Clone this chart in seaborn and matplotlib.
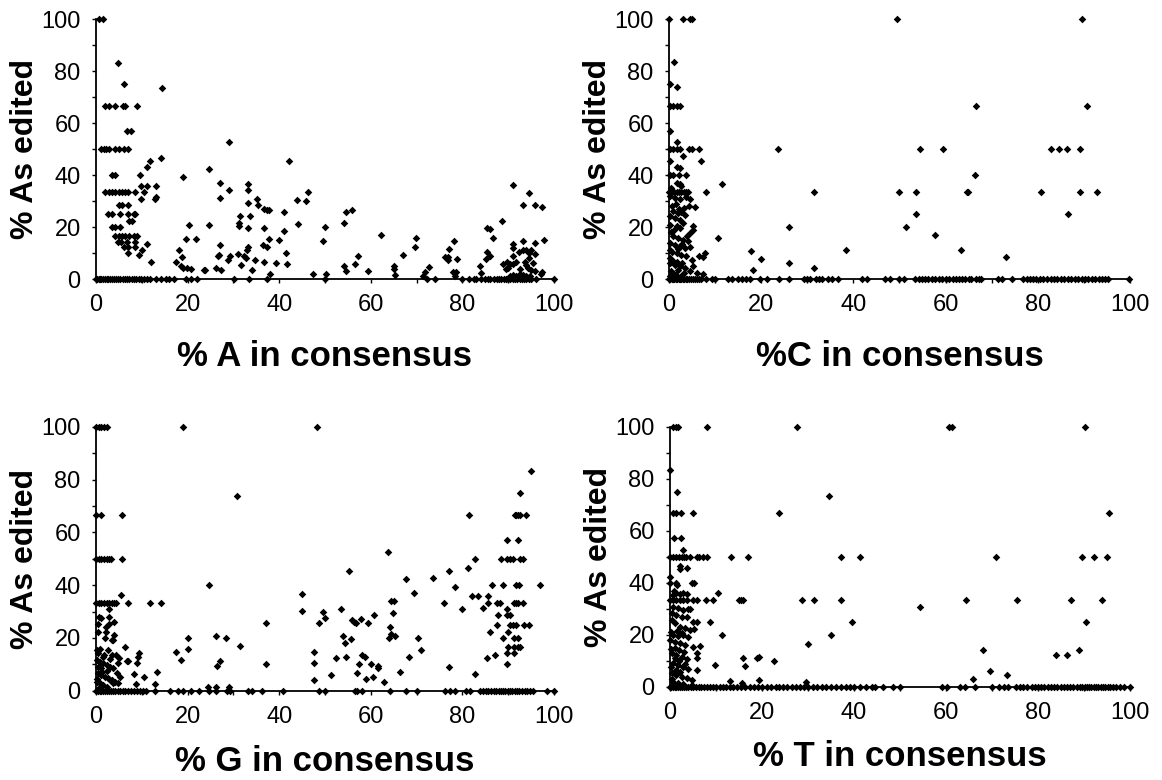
import numpy as np
import pandas as pd
import matplotlib
matplotlib.use("Agg")
import matplotlib.pyplot as plt
import seaborn as sns
from matplotlib.ticker import MultipleLocator

# (% base in consensus, % As edited) for sites with some editing
A_EDITED = [
    (0.7, 100), (1.5, 100), (4.7, 83.2), (6.2, 75),
    (2.0, 66.7), (2.8, 66.7), (4.2, 66.7), (5.8, 66.7), (6.4, 66.7), (9.0, 66.7),
    (6.8, 57.1), (7.7, 57.1),
    (1.2, 50), (1.7, 50), (2.2, 50), (2.8, 50), (4.2, 50), (5.0, 50), (6.2, 50), (7.0, 50),
    (14.4, 73.6), (14.1, 46.7), (11.9, 45.3), (11.2, 42.9),
    (3.5, 40), (4.2, 40), (9.6, 40), (9.9, 35.8), (11.2, 35.8), (13.0, 35.8),
    (2.0, 33.3), (2.8, 33.3), (3.5, 33.3), (4.2, 33.3), (5.0, 33.3), (5.7, 33.3),
    (6.4, 33.3), (7.0, 33.3), (8.5, 33.3), (10.4, 33.3),
    (9.8, 30.9), (12.8, 30.9), (13.0, 31.5), (5.0, 28.6), (5.7, 28.6), (7.0, 28.6),
    (2.6, 25), (3.4, 25), (5.3, 25), (7.0, 25), (8.2, 25), (8.6, 25),
    (7.2, 22.2), (7.9, 22.2), (3.5, 20), (4.2, 20), (5.3, 20),
    (4.2, 16.7), (5.0, 16.7), (5.7, 16.7), (6.4, 16.7), (7.2, 16.7), (8.2, 16.7), (9.0, 16.7),
    (4.7, 14.3), (5.5, 14.3), (6.8, 14.3), (8.6, 14.3), (6.2, 12.5), (7.0, 12.5), (8.5, 12.5),
    (10.1, 11.1), (7.0, 10), (9.3, 9.1), (11.2, 13.3), (12.0, 6.4),
    (19.0, 39.3), (18.1, 11.3), (17.4, 6.4), (18.8, 8.5), (18.5, 4.9), (19.0, 4.2),
    (19.9, 4.2), (20.7, 3.8), (19.6, 15.5), (20.4, 20.9), (21.8, 15.5), (23.6, 3.3),
    (23.9, 3.3), (24.7, 42.3), (24.7, 20.9), (26.1, 4.1),
    (27.0, 37.0), (27.0, 31.1), (27.0, 13.2), (26.9, 9.3), (26.6, 8.9), (27.4, 3.3),
    (29.1, 52.6), (29.1, 34.3), (29.3, 9.0), (28.8, 7.2),
    (31.0, 9.7), (31.2, 21.5), (31.2, 20.2), (31.4, 24.1), (31.7, 5.2), (32.3, 9.0), (32.7, 8.1),
    (33.2, 36.6), (33.1, 34.1), (33.2, 29.2), (33.2, 19.6), (33.1, 12.3), (33.0, 11.0),
    (33.7, 24.1), (34.0, 3.6), (34.7, 7.2),
    (35.1, 30.9), (35.4, 28.6), (36.7, 26.9), (37.4, 26.4), (36.7, 19.7), (36.4, 13.2),
    (36.6, 6.4), (37.4, 12.5), (37.8, 15.4), (37.8, 26.4), (38.0, 2.0),
    (39.3, 6.1), (40.0, 14.9), (41.0, 18.4), (41.0, 25.8), (41.5, 10.0), (41.7, 5.9),
    (42.2, 45.2), (43.9, 30.2), (44.2, 21.0),
    (45.9, 30.1), (46.4, 33.4), (47.4, 1.9), (49.6, 14.6), (50.0, 20.0), (50.2, 2.0),
    (54.1, 21.5), (54.7, 25.6), (55.8, 26.5), (54.2, 4.9), (54.6, 3.2), (56.5, 5.9),
    (57.3, 8.7), (59.5, 2.9), (62.2, 17.0),
    (65.0, 4.9), (65.0, 3.8), (65.3, 1.7), (67.0, 9.3), (69.7, 12.3), (69.9, 15.9),
    (71.5, 1.3), (71.8, 2.6), (72.8, 4.6),
    (76.2, 8.5), (76.9, 8.5), (76.9, 7.4), (77.1, 11.5), (78.2, 14.6), (78.9, 7.7),
    (78.0, 2.6), (78.6, 2.6), (78.4, 1.3),
    (83.8, 5.1), (84.0, 2.3), (85.2, 7.7), (85.4, 10.2), (86.0, 9.0), (85.4, 19.5),
    (86.0, 19.3), (86.8, 15.7), (88.6, 22.4),
    (91.0, 36.1), (93.3, 28.3), (94.5, 33.2), (95.9, 28.3), (97.3, 27.7), (97.8, 15.1),
    (91.1, 13.6), (91.0, 11.9), (91.1, 8.7), (88.8, 5.8), (89.7, 6.5), (90.4, 5.8),
    (90.0, 4.2), (89.5, 3.8), (91.1, 5.9), (91.7, 6.5), (92.4, 10.4), (93.2, 11.3),
    (93.2, 14.5), (93.9, 11.3), (94.5, 10.0), (94.9, 11.3), (94.6, 8.1), (93.7, 6.5),
    (94.0, 5.2), (94.4, 4.2), (95.5, 6.1), (95.8, 9.7), (95.8, 13.8), (95.8, 2.9),
    (95.1, 3.3), (92.7, 3.8), (92.6, 1.9), (93.3, 1.7), (94.0, 1.3), (94.8, 1.0),
    (91.8, 1.3), (91.1, 1.7), (90.4, 1.0), (97.1, 1.9), (97.3, 2.6),
]
A_ZERO_X = [
    0, 0.3, 0.6, 0.9, 1.2, 1.5, 1.9, 2.3, 2.7, 3.1, 3.5, 4.0, 4.4, 4.9, 5.3, 5.8, 6.3,
    6.8, 7.3, 7.8, 8.3, 8.8, 9.3, 9.9, 10.5, 11.1, 11.8, 13.0, 14.1, 15.2, 16.0, 17.0,
    19.6, 20.7, 22.1, 30.1, 33.4, 37.4, 50.0, 72.2, 74.0, 80.0, 81.5, 82.5, 83.0, 84.0,
    85.0, 85.5, 86.0, 87.0, 87.5, 88.0, 88.5, 89.0, 89.5, 90.0, 90.5, 91.0, 91.5, 92.0,
    92.5, 93.0, 93.5, 94.0, 94.5, 95.0, 96.0, 100.0,
]

C_EDITED = [
    (0.0, 100), (3.1, 100), (4.6, 100), (5.1, 100), (1.1, 83.3), (0.2, 75), (1.7, 73.7),
    (0.2, 66.7), (0.9, 66.7), (1.8, 66.7), (2.5, 66.7), (0.2, 57.1), (1.7, 52.6),
    (0.2, 50), (0.9, 50), (1.7, 50), (2.4, 50), (4.4, 50), (5.1, 50), (6.6, 50),
    (0.2, 45.5), (6.9, 45.5), (3.0, 47.2), (1.7, 42.9), (2.5, 42.6),
    (0.2, 40), (0.9, 40), (2.2, 40), (3.6, 40), (11.4, 36.7), (1.7, 36.9), (2.4, 36.5), (2.7, 35.6),
    (0.1, 33.3), (0.6, 33.3), (1.1, 33.3), (1.7, 33.3), (2.2, 33.3), (2.7, 33.3),
    (3.2, 33.3), (3.8, 33.3), (4.2, 33.3), (8.0, 33.3),
    (0.2, 31.8), (1.3, 31.2), (2.4, 30.8), (3.8, 31.4), (4.6, 30.9), (4.4, 27.9), (5.6, 27.7),
    (0.9, 26.0), (2.0, 25.4), (2.7, 25.6), (3.5, 24.7), (0.2, 24.1), (1.3, 23.5), (2.4, 22.8),
    (3.1, 21.5), (0.2, 20.9), (1.7, 20.3), (2.4, 19.6), (5.3, 20.3), (5.3, 18.7), (4.6, 17.7),
    (0.9, 16.4), (2.0, 15.8), (3.1, 15.1), (4.2, 14.5), (0.2, 13.8), (1.3, 13.2), (2.4, 12.6),
    (3.5, 11.9), (4.6, 12.2), (10.6, 15.6),
    (0.2, 11.3), (1.7, 10.0), (2.7, 9.4), (3.8, 8.7), (6.6, 9.0), (7.8, 10.0), (7.3, 8.5), (5.1, 7.4),
    (0.2, 6.2), (1.3, 5.5), (2.4, 4.9), (3.5, 4.2), (5.3, 4.9), (4.6, 2.9), (7.4, 1.9), (6.0, 2.3),
    (0.5, 3.0), (1.0, 2.0), (1.5, 1.5), (2.0, 3.5), (0.3, 8.0), (0.8, 7.0), (1.8, 6.5), (2.8, 6.0),
    (0.4, 18.0), (1.2, 19.0), (0.6, 28.0), (1.5, 29.0), (2.2, 27.0), (3.3, 27.5), (0.5, 35.0),
    (0.3, 1.0), (1.1, 0.8), (2.6, 1.2), (3.2, 2.5), (0.7, 10.5), (1.9, 11.5), (2.9, 13.5), (3.9, 16.5),
    (26.1, 20.0), (23.7, 50.0), (17.7, 10.6), (20.0, 7.7), (18.3, 3.3), (26.1, 6.1),
    (31.5, 4.2), (31.5, 33.4), (38.3, 11.3),
    (49.4, 100), (89.7, 100), (66.6, 66.6), (90.6, 66.6), (54.4, 50), (59.5, 50), (82.8, 50),
    (84.6, 50), (86.4, 50), (89.2, 50), (66.4, 40), (50.0, 33.4), (53.6, 33.4), (64.6, 33.4),
    (64.9, 33.4), (80.8, 33.4), (89.2, 33.4), (92.8, 33.4), (53.6, 25.1), (86.6, 25.1),
    (51.5, 20.0), (57.7, 16.8), (63.3, 11.3), (73.2, 8.5),
]
C_ZERO_X = [
    0, 0.3, 0.6, 0.9, 1.2, 1.5, 1.8, 2.1, 2.4, 2.7, 3.0, 3.3, 3.6, 4.0, 4.4, 4.8, 5.2,
    5.6, 6.0, 6.5, 7.0, 8.0, 9.3, 10.0, 12.9, 13.6, 15.0, 15.8, 16.8, 17.6, 19.7, 21.2,
    23.9, 26.1, 29.3, 30.0, 30.7, 31.8, 32.5, 33.1, 34.6, 35.3, 36.7, 41.8, 42.9, 46.8,
    47.9, 50.0, 51.0, 53.4, 54.2, 55.0, 55.6, 56.3, 57.0, 57.8, 58.6, 59.3, 60.0, 60.8,
    61.6, 62.3, 63.0, 63.6, 64.3, 65.0, 65.6, 66.5, 67.2, 67.8, 71.4, 72.2, 74.5, 76.9,
    77.6, 78.3, 79.0, 79.7, 80.5, 81.2, 82.0, 82.8, 83.5, 84.2, 85.0, 85.7, 86.5, 87.2,
    88.0, 88.7, 89.5, 90.2, 91.0, 91.7, 92.4, 93.2, 94.0, 94.6, 95.3, 99.9,
]

G_EDITED = [
    (0, 100), (0.7, 100), (1.2, 100), (1.7, 100), (2.3, 100), (19.0, 100), (48.3, 100),
    (0, 66.7), (1.2, 66.7), (5.7, 66.7), (30.9, 73.7),
    (0, 50), (0.6, 50), (1.2, 50), (1.7, 50), (2.3, 50), (2.8, 50), (3.3, 50), (5.6, 50),
    (5.4, 36.3),
    (0, 33.3), (0.6, 33.3), (1.2, 33.3), (1.7, 33.3), (2.3, 33.3), (2.8, 33.3), (3.4, 33.3),
    (3.9, 33.3), (4.4, 33.3), (7.1, 33.3), (11.9, 33.3), (14.1, 33.3),
    (0.7, 28.1), (1.2, 27.4), (2.8, 31.0), (2.8, 28.1), (4.0, 26.2), (0.5, 25.2), (2.1, 24.3),
    (2.8, 25.3), (0.5, 22.4), (2.1, 22.3), (4.0, 21.1), (3.8, 19.2), (3.6, 19.2), (2.0, 19.8),
    (0.15, 15.4), (0.9, 15.7), (2.7, 15.4), (0.5, 14.2), (1.6, 12.9), (3.6, 13.5), (4.3, 13.5),
    (6.4, 16.7), (4.9, 10.4), (6.8, 11.4), (9.2, 12.9), (9.3, 14.2), (8.9, 10.4), (13.3, 7.2),
    (8.4, 6.3), (10.4, 5.1), (12.8, 2.5), (8.7, 2.5), (7.0, 11.4),
    (0.15, 11.6), (0.9, 11.0), (1.6, 10.4), (2.3, 9.7), (3.1, 9.1), (3.8, 8.5), (0.5, 6.6),
    (1.2, 5.9), (2.0, 5.3), (2.7, 4.7), (3.4, 4.0), (4.1, 3.4), (0.15, 3.4), (0.9, 2.8),
    (1.6, 2.1), (2.3, 1.5), (3.1, 4.0), (3.8, 2.8), (0.4, 9.1), (1.1, 8.5), (4.5, 6.6),
    (5.2, 5.3), (4.9, 2.8), (0.3, 4.5), (1.4, 7.0), (2.5, 7.5), (0.6, 1.0), (1.8, 13.5),
    (3.0, 12.0), (5.0, 12.5),
    (24.6, 40.1), (37.1, 25.5), (26.3, 20.9), (28.3, 20.0), (27.0, 11.4), (26.4, 9.4),
    (31.5, 16.9), (17.5, 14.5), (18.6, 11.6), (20.2, 19.8), (20.1, 15.9), (37.1, 10.1),
    (24.5, 1.5), (26.1, 1.5), (29.0, 1.5),
    (45.0, 36.7), (45.0, 30.2), (47.6, 14.7), (47.6, 10.6), (47.6, 4.0), (48.8, 25.5),
    (49.6, 30.0), (50.1, 27.4), (51.4, 5.9), (52.5, 12.3), (53.6, 30.8), (54.0, 20.7),
    (54.4, 18.0), (54.5, 12.9), (55.3, 45.3), (55.7, 19.6), (56.0, 26.8), (56.4, 26.0),
    (56.8, 25.5), (57.9, 27.2), (59.3, 25.8), (60.8, 28.6), (57.1, 6.6), (57.4, 10.0),
    (58.1, 13.4), (58.8, 12.9), (58.9, 4.3), (60.0, 10.0), (60.6, 5.3), (61.5, 8.7),
    (61.5, 9.4), (62.9, 3.4), (63.8, 52.6), (64.0, 20.0), (64.2, 24.3), (64.5, 21.5),
    (65.3, 20.9), (64.5, 34.1), (65.1, 34.1), (64.9, 29.3), (66.4, 7.0), (67.6, 42.4),
    (68.3, 12.9), (69.4, 37.0), (70.4, 20.0), (71.0, 15.4), (73.6, 42.9), (76.0, 33.4),
    (77.1, 45.4), (77.1, 9.1), (78.4, 39.2), (80.0, 30.8), (81.3, 46.6), (81.5, 66.5),
    (82.8, 50.0), (82.1, 35.8), (83.4, 35.8), (82.7, 6.3), (84.6, 31.2), (85.3, 12.5),
    (85.7, 35.8), (85.7, 33.4), (86.0, 22.2), (86.4, 40.1), (87.1, 13.4), (87.5, 25.0),
    (87.6, 33.4), (88.2, 33.4), (87.7, 28.6), (88.4, 50.0), (88.8, 20.0), (88.8, 40.1),
    (89.7, 57.1), (89.7, 50.0), (90.4, 50.0), (91.1, 50.0), (89.7, 30.8), (89.7, 28.6),
    (90.4, 28.6), (90.0, 22.2), (89.9, 16.7), (89.7, 14.2), (89.7, 10.0), (90.4, 25.0),
    (91.1, 25.0), (91.7, 25.0), (91.3, 33.4), (91.8, 33.4), (92.2, 33.4), (93.2, 33.4),
    (91.3, 16.7), (92.1, 16.7), (92.6, 16.7), (91.3, 20.0), (92.1, 20.0), (91.3, 14.2),
    (91.5, 66.6), (91.8, 66.6), (92.2, 66.6), (92.6, 66.6), (92.1, 57.1), (91.8, 40.1),
    (92.4, 40.1), (92.6, 50.0), (93.3, 50.0), (92.6, 75.1), (93.4, 25.0), (94.6, 25.0),
    (94.0, 66.6), (94.9, 83.3), (96.9, 40.1),
]
G_ZERO_X = [
    0, 0.4, 0.8, 1.2, 1.6, 2.0, 2.4, 2.8, 3.2, 3.7, 4.2, 4.7, 5.2, 5.8, 6.4, 7.0, 7.6,
    8.2, 8.9, 9.6, 10.3, 11.0, 12.8, 16.1, 17.9, 19.0, 20.8, 22.4, 24.6, 26.1, 28.6,
    29.2, 33.3, 34.1, 36.2, 40.9, 48.7, 50.0, 56.5, 57.0, 58.0, 64.2, 67.7, 70.0, 76.3,
    77.4, 78.4, 80.9, 81.7, 83.8, 84.5, 85.1, 85.7, 86.3, 86.9, 87.4, 87.9, 88.4, 88.9,
    89.4, 89.9, 90.4, 90.9, 91.4, 91.9, 92.4, 93.0, 93.6, 94.2, 94.8, 95.5, 98.4, 100.0,
]

T_EDITED = [
    (0.7, 100), (1.4, 100), (1.8, 100), (8.0, 100), (27.5, 100), (60.7, 100), (61.4, 100),
    (90.1, 100), (0, 83.3), (1.6, 75), (34.6, 73.6),
    (0.7, 66.7), (1.4, 66.7), (2.3, 66.7), (4.9, 66.7), (23.8, 66.7), (95.5, 66.7),
    (0.9, 57.1), (2.3, 57.1), (2.9, 52.6),
    (0, 50), (0.7, 50), (1.4, 50), (2.0, 50), (2.5, 50), (3.0, 50), (3.5, 50), (4.3, 50),
    (5.8, 50), (6.2, 50), (7.1, 50), (8.1, 50), (13.3, 50), (16.9, 50), (37.2, 50),
    (41.4, 50), (70.8, 50), (89.6, 50), (92.2, 50), (95.0, 50),
    (2.2, 46.6), (2.2, 45.2), (3.8, 45.6), (0, 42.4), (0, 39.8), (1.4, 39.8), (1.6, 39.2),
    (4.7, 40.1), (5.2, 39.8), (0.9, 37.0), (10.5, 36.2), (0.6, 35.3), (1.4, 35.9),
    (2.2, 35.7), (2.9, 35.9), (3.6, 35.7),
    (0, 33.3), (0.7, 33.3), (1.4, 33.3), (2.2, 33.3), (2.9, 33.3), (3.6, 33.3), (4.9, 33.3),
    (5.8, 33.3), (7.8, 33.3), (9.4, 33.3), (15.0, 33.3), (15.4, 33.3), (15.9, 33.3),
    (28.8, 33.3), (31.2, 33.3), (37.2, 33.3), (64.3, 33.3), (75.4, 33.3), (87.2, 33.3),
    (94.0, 33.3), (54.3, 30.8),
    (0.7, 30.8), (1.8, 30.2), (2.9, 29.5), (4.0, 29.8), (4.3, 30.0), (0.4, 28.2), (1.4, 27.6),
    (2.5, 27.0), (3.6, 26.7), (5.1, 25.0), (5.8, 25.0), (8.6, 24.8), (39.5, 24.8), (90.4, 24.8),
    (0.4, 25.7), (1.1, 24.4), (2.2, 23.1), (3.3, 22.5), (4.3, 21.8), (5.2, 22.1),
    (0.7, 19.9), (1.8, 19.5), (2.9, 19.9), (4.0, 19.0), (11.2, 19.9), (35.1, 19.9),
    (0, 18.0), (1.1, 17.3), (2.2, 16.7), (3.3, 16.0), (5.1, 15.1), (6.5, 15.7), (30.1, 16.4),
    (5.9, 12.8), (5.8, 10.9), (5.8, 6.4), (9.8, 8.3), (4.7, 2.6), (13.0, 2.3),
    (0.4, 12.8), (1.4, 12.2), (2.5, 11.6), (3.6, 10.5), (0.7, 9.0), (1.8, 8.3), (2.9, 7.4),
    (4.0, 6.7), (0.4, 5.1), (1.4, 4.5), (2.5, 3.9), (3.6, 3.2), (0.7, 1.9), (1.8, 1.3),
    (2.9, 1.0), (4.7, 0.6), (0.2, 14.5), (1.0, 15.0), (2.0, 14.0), (3.0, 13.5), (0.3, 21.0),
    (1.5, 21.5), (2.6, 20.8), (0.5, 3.0), (1.2, 6.5), (2.1, 5.5), (3.2, 8.8), (1.0, 11.0),
    (2.0, 10.0), (0.2, 7.5),
    (15.8, 10.9), (16.3, 8.0), (19.0, 10.9), (19.4, 11.6), (22.5, 9.8), (15.6, 1.5),
    (19.3, 2.6), (29.6, 1.9), (68.1, 14.1), (83.8, 12.3), (86.4, 12.3), (88.9, 14.1),
    (69.6, 6.0), (73.3, 4.7), (65.8, 2.8),
]
T_ZERO_X = [
    0, 0.3, 0.6, 1.0, 1.4, 1.8, 2.2, 2.6, 3.0, 3.5, 4.0, 4.5, 5.0, 5.6, 6.2, 6.8, 7.4,
    8.0, 8.7, 9.4, 10.1, 10.8, 11.5, 12.2, 13.0, 13.8, 14.6, 15.4, 16.4, 17.4, 18.3,
    19.2, 20.1, 21.0, 22.0, 23.0, 23.8, 24.6, 25.5, 26.5, 27.4, 28.3, 29.1, 30.0, 31.0,
    32.0, 33.0, 34.0, 35.0, 36.1, 37.2, 38.2, 39.1, 40.0, 41.3, 42.7, 43.8, 44.6, 46.4,
    48.5, 50.0, 59.1, 60.3, 63.0, 64.1, 66.3, 70.1, 71.6, 72.6, 73.5, 75.2, 76.0, 76.8,
    77.5, 78.6, 79.3, 80.0, 80.7, 81.4, 82.1, 82.8, 83.5, 84.2, 84.9, 85.6, 86.3, 87.0,
    87.7, 88.4, 89.1, 89.6, 90.1, 90.6, 91.1, 91.6, 92.1, 92.6, 93.1, 93.6, 94.1, 94.6,
    95.1, 95.6, 96.3, 97.0, 97.8, 98.6, 100.0,
]

PANELS = [
    ("% A in consensus", A_EDITED, A_ZERO_X),
    ("%C in consensus", C_EDITED, C_ZERO_X),
    ("% G in consensus", G_EDITED, G_ZERO_X),
    ("% T in consensus", T_EDITED, T_ZERO_X),
]
# axes boxes in figure fractions: left, bottom, width, height
BOXES = [
    [0.0826, 0.6423, 0.3941, 0.3333],
    [0.5757, 0.6423, 0.3967, 0.3333],
    [0.0826, 0.1145, 0.3941, 0.3381],
    [0.5766, 0.1196, 0.3959, 0.3330],
]
XLABEL_Y = [-0.30, -0.30, -0.267, -0.267]


def panel_frame(edited, zero_x):
    df = pd.DataFrame(edited, columns=["consensus", "edited"])
    zeros = pd.DataFrame({"consensus": zero_x})
    zeros["edited"] = 0.0
    return pd.concat([zeros, df], ignore_index=True)


def draw_panel(ax, xlabel, df, label_y):
    sns.scatterplot(data=df, x="consensus", y="edited", ax=ax, marker="D",
                    s=15, color="black", linewidth=0, clip_on=False, zorder=3,
                    legend=False)
    ax.set_xlim(0, 100)
    ax.set_ylim(0, 100)
    ax.xaxis.set_major_locator(MultipleLocator(20))
    ax.xaxis.set_minor_locator(MultipleLocator(10))
    ax.yaxis.set_major_locator(MultipleLocator(20))
    ax.yaxis.set_minor_locator(MultipleLocator(10))
    ax.tick_params(which="both", direction="out", length=3, width=1,
                   color="black", labelcolor="black", labelsize=17, pad=8)
    for side in ["top", "right"]:
        ax.spines[side].set_visible(False)
    for side in ["left", "bottom"]:
        ax.spines[side].set_color("black")
        ax.spines[side].set_linewidth(1.3)
    ax.set_xlabel(xlabel, fontsize=25, fontweight="bold", va="center", color="black")
    ax.set_ylabel("% As edited", fontsize=23, fontweight="bold", va="center", color="black")
    ax.xaxis.set_label_coords(0.5, label_y)
    ax.yaxis.set_label_coords(-0.155, 0.5)


def main():
    sns.set_style("ticks")
    plt.rcParams["font.family"] = ["Liberation Sans", "DejaVu Sans"]
    fig = plt.figure(figsize=(11.62, 7.8), dpi=100)
    for (xlabel, edited, zero_x), box, label_y in zip(PANELS, BOXES, XLABEL_Y):
        ax = fig.add_axes(box)
        draw_panel(ax, xlabel, panel_frame(edited, zero_x), label_y)
    fig.savefig("out.png", dpi=100, facecolor="white")
    plt.close(fig)


if __name__ == "__main__":
    main()
